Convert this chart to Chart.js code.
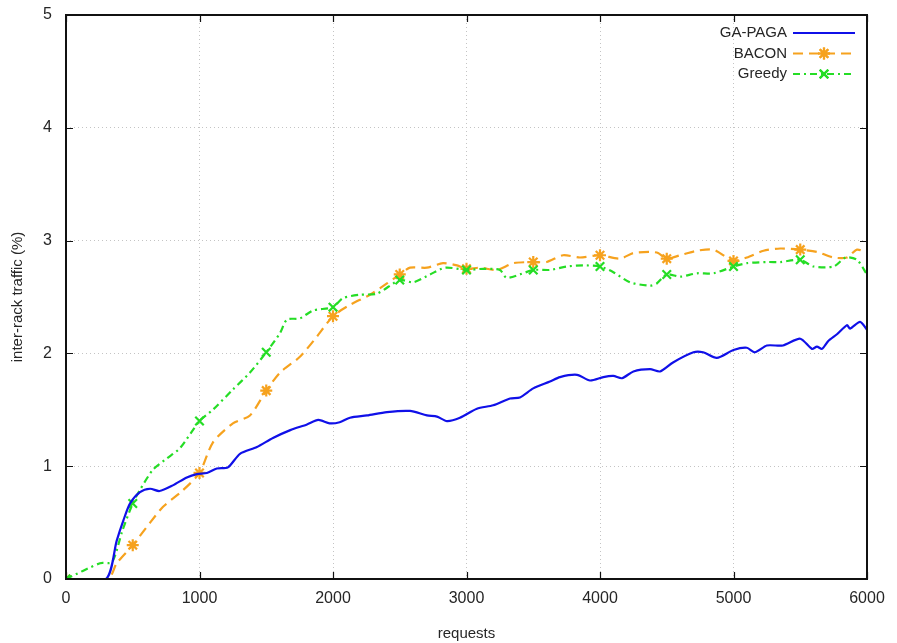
<!DOCTYPE html>
<html>
<head>
<meta charset="utf-8">
<script src="https://cdn.jsdelivr.net/npm/chart.js@4.4.1/dist/chart.umd.min.js"></script>
<style>
  html, body { margin: 0; padding: 0; background: #fff; }
  #wrap { width: 897px; height: 643px; }
</style>
</head>
<body>
<div id="wrap"><canvas id="c"></canvas></div>
<script>
// series
var gaX = [0, 300, 380, 430, 480, 554, 630, 700, 800, 905, 980, 1055, 1130, 1213, 1303, 1430, 1550, 1680, 1805, 1890, 1975, 2050, 2127, 2255, 2404, 2577, 2704, 2779, 2854, 2951, 3078, 3200, 3326, 3400, 3500, 3625, 3700, 3828, 3925, 4025, 4100, 4165, 4250, 4375, 4450, 4547, 4700, 4772, 4875, 5000, 5100, 5160, 5250, 5370, 5500, 5588, 5625, 5663, 5710, 5775, 5850, 5873, 5948, 6000];
var gaY = [0, 0, 0.34, 0.52, 0.67, 0.77, 0.80, 0.78, 0.83, 0.90, 0.93, 0.94, 0.98, 0.99, 1.11, 1.17, 1.25, 1.32, 1.37, 1.41, 1.38, 1.39, 1.43, 1.45, 1.48, 1.49, 1.45, 1.44, 1.40, 1.43, 1.51, 1.54, 1.60, 1.61, 1.69, 1.75, 1.79, 1.81, 1.76, 1.79, 1.80, 1.78, 1.84, 1.86, 1.84, 1.92, 2.01, 2.01, 1.96, 2.03, 2.05, 2.01, 2.07, 2.07, 2.13, 2.04, 2.06, 2.04, 2.11, 2.17, 2.25, 2.22, 2.28, 2.21];

var baconX = [0, 315, 380, 500, 630, 727, 870, 1000, 1100, 1250, 1378, 1500, 1603, 1752, 1880, 2000, 2127, 2277, 2404, 2500, 2577, 2704, 2824, 2929, 3000, 3100, 3228, 3350, 3500, 3600, 3723, 3850, 4000, 4150, 4250, 4375, 4435, 4500, 4600, 4725, 4850, 4950, 5000, 5100, 5225, 5350, 5500, 5625, 5750, 5850, 5925, 6000];
var baconY = [0, 0, 0.14, 0.30, 0.50, 0.64, 0.78, 0.94, 1.21, 1.38, 1.45, 1.67, 1.83, 1.97, 2.15, 2.33, 2.43, 2.52, 2.62, 2.70, 2.76, 2.76, 2.80, 2.78, 2.75, 2.76, 2.74, 2.80, 2.81, 2.81, 2.87, 2.85, 2.87, 2.84, 2.89, 2.90, 2.89, 2.84, 2.87, 2.91, 2.92, 2.85, 2.82, 2.85, 2.91, 2.93, 2.92, 2.90, 2.85, 2.85, 2.92, 2.89];

var greedyX = [0, 255, 345, 420, 500, 554, 652, 757, 854, 1000, 1100, 1250, 1378, 1500, 1603, 1655, 1752, 1850, 2000, 2075, 2200, 2330, 2500, 2600, 2727, 2840, 3000, 3125, 3250, 3300, 3400, 3500, 3625, 3750, 3875, 4000, 4100, 4225, 4375, 4425, 4500, 4600, 4725, 4850, 5000, 5100, 5250, 5350, 5500, 5600, 5750, 5840, 5925, 6000];
var greedyY = [0, 0.14, 0.15, 0.42, 0.67, 0.79, 0.97, 1.07, 1.16, 1.40, 1.50, 1.68, 1.83, 2.01, 2.18, 2.30, 2.31, 2.38, 2.41, 2.49, 2.52, 2.53, 2.65, 2.63, 2.70, 2.76, 2.74, 2.75, 2.74, 2.67, 2.70, 2.74, 2.74, 2.77, 2.78, 2.77, 2.72, 2.63, 2.60, 2.62, 2.70, 2.68, 2.71, 2.71, 2.77, 2.80, 2.81, 2.81, 2.83, 2.77, 2.77, 2.85, 2.83, 2.70];

var xTicks = [0, 1000, 2000, 3000, 4000, 5000, 6000];
var yTicks = [0, 1, 2, 3, 4, 5];
var markEvery = 500;

var FONT = '"Liberation Sans", Arial, sans-serif';
var TXT = '#262626';

function pts(xs, ys) {
    return xs.map(function(x, i) { return { x: x, y: ys[i] }; });
}

function markerRadius(ctx) {
    var p = ctx.raw;
    if (!p || p.x >= 6000) return 0;
    return p.x % markEvery === 0 ? 6 : 0;
}

function edgeGrid(ctx) {
    var v = ctx.tick && ctx.tick.value;
    if (v === ctx.scale.min || v === ctx.scale.max) return 'rgba(0,0,0,0)';
    return '#c4c4c4';
}

// box round the plot and the short inward ticks on all four sides
var framePlugin = {
    id: 'frame',
    afterDatasetsDraw: function(chart) {
        var a = chart.chartArea, c = chart.ctx;
        var xs = chart.scales.x, ys = chart.scales.y;
        var len = 7;
        c.save();
        c.strokeStyle = '#111';
        c.lineWidth = 1.2;
        c.beginPath();
        xTicks.forEach(function(v) {
            var px = Math.round(xs.getPixelForValue(v)) + 0.5;
            c.moveTo(px, a.bottom); c.lineTo(px, a.bottom - len);
            c.moveTo(px, a.top); c.lineTo(px, a.top + len);
        });
        yTicks.forEach(function(v) {
            var py = Math.round(ys.getPixelForValue(v)) + 0.5;
            c.moveTo(a.left, py); c.lineTo(a.left + len, py);
            c.moveTo(a.right, py); c.lineTo(a.right - len, py);
        });
        c.stroke();
        c.lineWidth = 2;
        c.strokeRect(a.left, a.top, a.right - a.left, a.bottom - a.top);
        c.restore();
    }
};

// gnuplot style key: label right aligned, then line sample with marker
var keyPlugin = {
    id: 'key',
    afterDatasetsDraw: function(chart) {
        var c = chart.ctx, a = chart.chartArea;
        var textRight = a.right - 80;
        var x0 = a.right - 74, x1 = a.right - 12;
        c.save();
        c.font = '15px ' + FONT;
        c.textAlign = 'right';
        c.textBaseline = 'middle';
        chart.data.datasets.forEach(function(ds, i) {
            var y = a.top + 18 + i * 20.5;
            c.fillStyle = TXT;
            c.fillText(ds.label, textRight, y);
            c.strokeStyle = ds.borderColor;
            c.lineWidth = ds.borderWidth;
            c.setLineDash(ds.borderDash || []);
            c.beginPath();
            c.moveTo(x0, y); c.lineTo(x1, y);
            c.stroke();
            c.setLineDash([]);
            if (ds.pointStyle) {
                Chart.helpers.drawPoint(c, {
                    pointStyle: ds.pointStyle, radius: 6, borderWidth: 2
                }, (x0 + x1) / 2, y);
                c.strokeStyle = ds.borderColor;
                c.lineWidth = 2.2;
                c.stroke();
            }
        });
        c.restore();
    }
};

var common = { fill: false, tension: 0.25, pointHoverRadius: 0, borderWidth: 2.2 };

new Chart(document.getElementById('c'), {
    type: 'line',
    data: {
        datasets: [
            Object.assign({}, common, {
                label: 'GA-PAGA', data: pts(gaX, gaY),
                borderColor: '#1010e8', pointRadius: 0, order: 1
            }),
            Object.assign({}, common, {
                label: 'BACON', data: pts(baconX, baconY),
                borderColor: '#f6a21e', borderDash: [10, 6],
                pointStyle: 'star', pointRadius: markerRadius, pointBorderWidth: 2.2,
                pointBorderColor: '#f6a21e', pointBackgroundColor: '#f6a21e', order: 3
            }),
            Object.assign({}, common, {
                label: 'Greedy', data: pts(greedyX, greedyY),
                borderColor: '#25dd25', borderDash: [7, 4, 2, 4],
                pointStyle: 'crossRot', pointRadius: markerRadius, pointBorderWidth: 2.2,
                pointBorderColor: '#25dd25', pointBackgroundColor: '#25dd25', order: 2
            })
        ]
    },
    options: {
        responsive: true, maintainAspectRatio: false, animation: false,
        layout: { padding: { top: 15, right: 30, left: 0, bottom: 0 } },
        plugins: { legend: { display: false }, tooltip: { enabled: false } },
        scales: {
            x: {
                type: 'linear', min: 0, max: 6000,
                afterFit: function(s) { s.height = 64; s.paddingLeft = 0; s.paddingRight = 0; },
                afterBuildTicks: function(s) { s.ticks = xTicks.map(function(v) { return { value: v }; }); },
                grid: { color: edgeGrid, drawTicks: false, lineWidth: 1 },
                border: { display: false, dash: [1, 3] },
                ticks: { padding: 10, color: TXT, font: { family: FONT, size: 16 }, maxRotation: 0,
                    callback: function(v) { return String(v); } },
                title: { display: true, text: 'requests', color: TXT, font: { family: FONT, size: 15 }, padding: { top: 4, bottom: 0 } }
            },
            y: {
                type: 'linear', min: 0, max: 5,
                afterFit: function(s) { s.width = 66; s.paddingTop = 0; s.paddingBottom = 0; },
                afterBuildTicks: function(s) { s.ticks = yTicks.map(function(v) { return { value: v }; }); },
                grid: { color: edgeGrid, drawTicks: false, lineWidth: 1 },
                border: { display: false, dash: [1, 3] },
                ticks: { padding: 14, color: TXT, font: { family: FONT, size: 16 } },
                title: { display: true, text: 'inter-rack traffic (%)', color: TXT, font: { family: FONT, size: 15 }, padding: { top: 9, bottom: 4 } }
            }
        }
    },
    plugins: [framePlugin, keyPlugin]
});
</script>
</body>
</html>
